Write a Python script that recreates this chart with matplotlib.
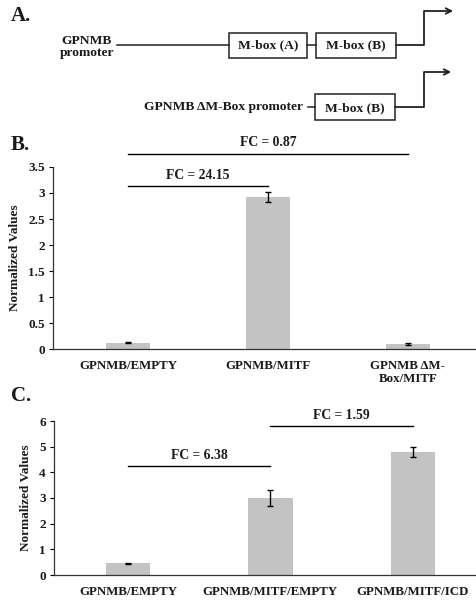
import numpy as np
import matplotlib
matplotlib.use('Agg')
import matplotlib.pyplot as plt
from matplotlib.patches import Rectangle

plt.rcParams['font.family'] = ['Liberation Serif', 'DejaVu Serif']
plt.rcParams['font.weight'] = 'bold'

W, H = 477, 606

# panel B data
cats_b = ['GPNMB/EMPTY', 'GPNMB/MITF', 'GPNMB \u0394M-\nBox/MITF']
vals_b = [0.12, 2.92, 0.10]
errs_b = [0.01, 0.10, 0.015]
fc_b = [(0, 1, 3.13, 'FC = 24.15'), (0, 2, 3.75, 'FC = 0.87')]

# panel C data
cats_c = ['GPNMB/EMPTY', 'GPNMB/MITF/EMPTY', 'GPNMB/MITF/ICD']
vals_c = [0.45, 3.0, 4.78]
errs_c = [0.03, 0.30, 0.20]
fc_c = [(0, 1, 4.26, 'FC = 6.38'), (1, 2, 5.82, 'FC = 1.59')]

bar_col = '#c3c3c3'
txt_col = '#1a1a1a'

fig = plt.figure(figsize=(W / 100, H / 100), dpi=100)


def px_axes(x0, y_top, x1, y_bot):
    return fig.add_axes([x0 / W, 1 - y_bot / H, (x1 - x0) / W, (y_bot - y_top) / H])


def bar_panel(ax, cats, vals, errs, fcs, ylim, yticks, xlim):
    x = np.arange(len(cats))
    ax.bar(x, vals, width=0.31, color=bar_col, zorder=2)
    ax.errorbar(x, vals, yerr=errs, fmt='none', ecolor='black', elinewidth=1,
                capsize=2.5, capthick=1, zorder=3)
    for i0, i1, y, label in fcs:
        ax.plot([i0, i1], [y, y], color='black', lw=1, clip_on=False)
        ax.text((i0 + i1) / 2, y + (ylim[1] * 0.025), label, ha='center', va='bottom',
                fontsize=9.8, fontweight='bold', color=txt_col, clip_on=False)
    ax.set_xlim(*xlim)
    ax.set_ylim(*ylim)
    ax.set_yticks(yticks)
    ax.set_yticklabels([f'{t:g}' for t in yticks], fontsize=9.5, fontweight='bold', color=txt_col)
    ax.set_xticks(x)
    ax.set_xticklabels(cats, fontsize=9.3, fontweight='bold', color=txt_col, linespacing=1.1)
    ax.tick_params(axis='x', length=0, pad=8)
    ax.tick_params(axis='y', length=3, width=0.8, pad=3)
    ax.set_ylabel('Normalized Values', fontsize=9.5, fontweight='bold', color=txt_col, labelpad=5)
    for s in ['top', 'right']:
        ax.spines[s].set_visible(False)
    for s in ['left', 'bottom']:
        ax.spines[s].set_color('#333333')
        ax.spines[s].set_linewidth(0.9)


ax_b = px_axes(53, 167, 477, 349)
bar_panel(ax_b, cats_b, vals_b, errs_b, fc_b, (0, 3.5), [0, 0.5, 1, 1.5, 2, 2.5, 3, 3.5],
          (-0.536, 2.493))

ax_c = px_axes(54, 421, 477, 575)
bar_panel(ax_c, cats_c, vals_c, errs_c, fc_c, (0, 6), [0, 1, 2, 3, 4, 5, 6],
          (-0.52, 2.45))

# overlay in pixel coordinates for diagram and panel letters
ov = fig.add_axes([0, 0, 1, 1], zorder=-1)
ov.set_xlim(0, W)
ov.set_ylim(H, 0)
ov.axis('off')

for lab, (lx, ly) in zip(['A.', 'B.', 'C.'], [(11, 16), (11, 145), (11, 396)]):
    ov.text(lx, ly, lab, fontsize=15, fontweight='bold', ha='left', va='center', color=txt_col)

lc = '#222222'
fs = 9.7
# row 1
ov.plot([117, 229], [45, 45], color=lc, lw=1.1)
ov.add_patch(Rectangle((229, 33), 78, 25, fill=False, ec=lc, lw=1.1))
ov.plot([307, 316], [45, 45], color=lc, lw=1.1)
ov.add_patch(Rectangle((316, 33), 80, 25, fill=False, ec=lc, lw=1.1))
ov.plot([396, 424, 424, 450], [45, 45, 11, 11], color=lc, lw=1.3)
ov.annotate('', xy=(456, 11), xytext=(446, 11),
            arrowprops=dict(arrowstyle='->', color=lc, lw=1.3, mutation_scale=10))
ov.text(268, 45.5, 'M-box (A)', fontsize=fs, fontweight='bold', ha='center', va='center', color=txt_col)
ov.text(356, 45.5, 'M-box (B)', fontsize=fs, fontweight='bold', ha='center', va='center', color=txt_col)
ov.text(87, 47, 'GPNMB\npromoter', fontsize=fs, fontweight='bold', ha='center', va='center',
        linespacing=1.0, color=txt_col)

# row 2
ov.text(303, 107, 'GPNMB \u0394M-Box promoter', fontsize=fs, fontweight='bold', ha='right',
        va='center', color=txt_col)
ov.plot([308, 315], [107, 107], color=lc, lw=1.1)
ov.add_patch(Rectangle((315, 94), 80, 26, fill=False, ec=lc, lw=1.1))
ov.text(355, 108, 'M-box (B)', fontsize=fs, fontweight='bold', ha='center', va='center', color=txt_col)
ov.plot([395, 424, 424, 448], [107, 107, 72, 72], color=lc, lw=1.3)
ov.annotate('', xy=(454, 72), xytext=(444, 72),
            arrowprops=dict(arrowstyle='->', color=lc, lw=1.3, mutation_scale=10))

fig.savefig('out.png', dpi=100)
